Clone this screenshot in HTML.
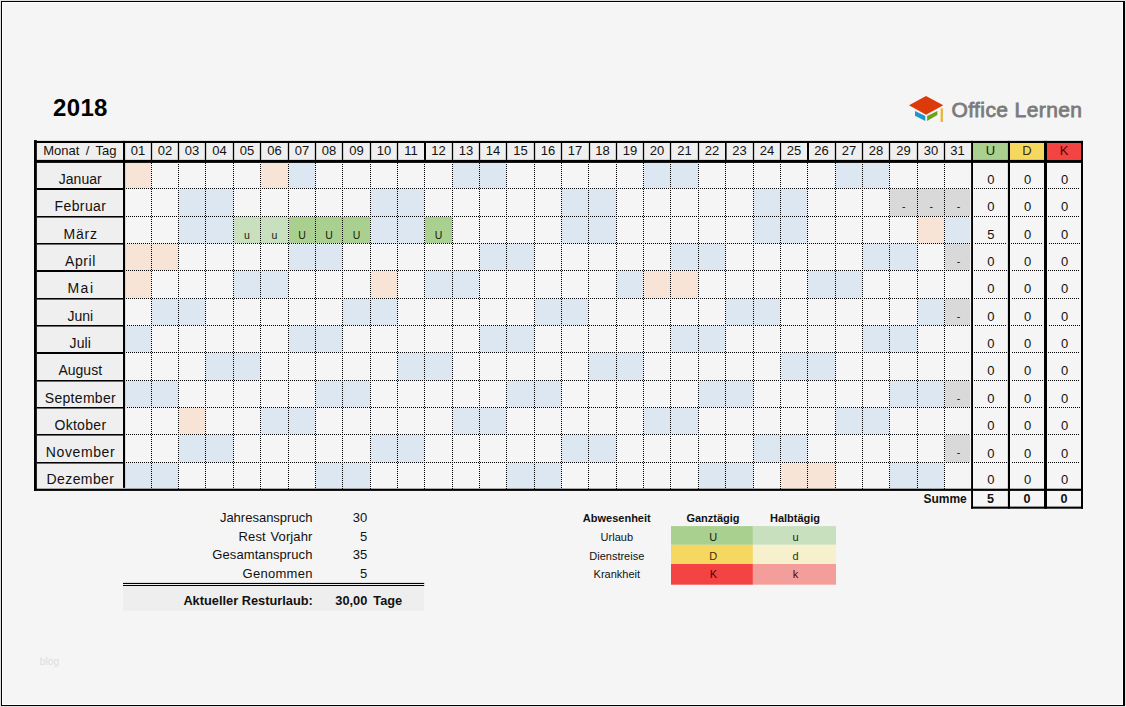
<!DOCTYPE html>
<html lang="de">
<head>
<meta charset="utf-8">
<title>Urlaubsplaner 2018</title>
<style>
html,body{margin:0;padding:0;}
body{width:1126px;height:707px;overflow:hidden;background:#f5f5f5;font-family:"Liberation Sans",sans-serif;}
#page{position:relative;width:1126px;height:707px;overflow:hidden;}
#gfx{position:absolute;left:0;top:0;}
.t{position:absolute;white-space:nowrap;margin:0;padding:0;}
</style>
</head>
<body>
<div id="page">
<svg id="gfx" width="1126" height="707" viewBox="0 0 1126 707">
<rect x="0" y="0" width="1126" height="707" fill="#e0e0e0"/>
<rect x="1" y="1" width="1124" height="705" fill="#000"/>
<rect x="2" y="2" width="1121" height="703" fill="#fff"/>
<rect x="3" y="3" width="1119" height="701" fill="#f5f5f5"/>
<rect x="36.85" y="143" width="934.25" height="16.9" fill="#efefef"/>
<rect x="973" y="143" width="34.9" height="16.9" fill="#a9d08e"/>
<rect x="1010" y="143" width="34" height="16.9" fill="#f6d860"/>
<rect x="1047" y="143" width="34" height="16.9" fill="#f44343"/>
<rect x="36.85" y="162.9" width="86.15" height="325.8" fill="#efefef"/>
<rect x="125.1" y="162.9" width="25.9" height="25.1" fill="#f8e3d7"/>
<rect x="261" y="162.9" width="27" height="25.1" fill="#f8e3d7"/>
<rect x="289" y="162.9" width="26" height="25.1" fill="#dde7f2"/>
<rect x="453" y="162.9" width="27" height="25.1" fill="#dde7f2"/>
<rect x="480" y="162.9" width="26" height="25.1" fill="#dde7f2"/>
<rect x="644" y="162.9" width="27" height="25.1" fill="#dde7f2"/>
<rect x="671" y="162.9" width="27" height="25.1" fill="#dde7f2"/>
<rect x="836" y="162.9" width="27" height="25.1" fill="#dde7f2"/>
<rect x="863" y="162.9" width="26" height="25.1" fill="#dde7f2"/>
<rect x="179" y="189" width="27" height="27" fill="#dde7f2"/>
<rect x="179" y="216" width="26" height="1" fill="#dde7f2"/>
<rect x="206" y="189" width="27" height="27" fill="#dde7f2"/>
<rect x="206" y="216" width="27" height="1" fill="#dde7f2"/>
<rect x="371" y="189" width="27" height="27" fill="#dde7f2"/>
<rect x="371" y="216" width="26" height="1" fill="#dde7f2"/>
<rect x="398" y="189" width="26" height="27" fill="#dde7f2"/>
<rect x="398" y="216" width="26" height="1" fill="#dde7f2"/>
<rect x="562" y="189" width="27" height="27" fill="#dde7f2"/>
<rect x="562" y="216" width="26" height="1" fill="#dde7f2"/>
<rect x="589" y="189" width="27" height="27" fill="#dde7f2"/>
<rect x="589" y="216" width="27" height="1" fill="#dde7f2"/>
<rect x="754" y="189" width="27" height="27" fill="#dde7f2"/>
<rect x="754" y="216" width="26" height="1" fill="#dde7f2"/>
<rect x="781" y="189" width="26" height="27" fill="#dde7f2"/>
<rect x="781" y="216" width="26" height="1" fill="#dde7f2"/>
<rect x="890" y="189" width="28" height="27" fill="#d9d9d9"/>
<rect x="918" y="189" width="27" height="27" fill="#d9d9d9"/>
<rect x="945" y="189" width="25.2" height="27" fill="#d9d9d9"/>
<rect x="179" y="217" width="27" height="26" fill="#dde7f2"/>
<rect x="206" y="217" width="27" height="26" fill="#dde7f2"/>
<rect x="234" y="217" width="27" height="26" fill="#c9e0bf"/>
<rect x="261" y="217" width="27" height="26" fill="#c9e0bf"/>
<rect x="289" y="217" width="27" height="26" fill="#a9d08e"/>
<rect x="316" y="217" width="27" height="26" fill="#a9d08e"/>
<rect x="343" y="217" width="27" height="26" fill="#a9d08e"/>
<rect x="371" y="217" width="27" height="26" fill="#dde7f2"/>
<rect x="398" y="217" width="26" height="26" fill="#dde7f2"/>
<rect x="425" y="217" width="27" height="26" fill="#a9d08e"/>
<rect x="562" y="217" width="27" height="26" fill="#dde7f2"/>
<rect x="589" y="217" width="27" height="26" fill="#dde7f2"/>
<rect x="754" y="217" width="27" height="26" fill="#dde7f2"/>
<rect x="781" y="217" width="26" height="26" fill="#dde7f2"/>
<rect x="918" y="217" width="26" height="26" fill="#f8e3d7"/>
<rect x="945" y="217" width="25.2" height="26" fill="#dde7f2"/>
<rect x="125.1" y="244" width="26.9" height="26" fill="#f8e3d7"/>
<rect x="125.1" y="270" width="25.9" height="1" fill="#f8e3d7"/>
<rect x="152" y="244" width="26" height="26" fill="#f8e3d7"/>
<rect x="289" y="244" width="27" height="26" fill="#dde7f2"/>
<rect x="316" y="244" width="26" height="26" fill="#dde7f2"/>
<rect x="480" y="244" width="27" height="26" fill="#dde7f2"/>
<rect x="507" y="244" width="27" height="26" fill="#dde7f2"/>
<rect x="671" y="244" width="28" height="26" fill="#dde7f2"/>
<rect x="699" y="244" width="26" height="26" fill="#dde7f2"/>
<rect x="863" y="244" width="27" height="26" fill="#dde7f2"/>
<rect x="890" y="244" width="27" height="26" fill="#dde7f2"/>
<rect x="945" y="244" width="25.2" height="26" fill="#d9d9d9"/>
<rect x="125.1" y="271" width="25.9" height="27" fill="#f8e3d7"/>
<rect x="234" y="271" width="27" height="27" fill="#dde7f2"/>
<rect x="261" y="271" width="27" height="27" fill="#dde7f2"/>
<rect x="371" y="271" width="26" height="27" fill="#f8e3d7"/>
<rect x="425" y="271" width="28" height="27" fill="#dde7f2"/>
<rect x="453" y="271" width="26" height="27" fill="#dde7f2"/>
<rect x="617" y="271" width="26" height="27" fill="#dde7f2"/>
<rect x="644" y="271" width="27" height="27" fill="#f8e3d7"/>
<rect x="671" y="271" width="27" height="27" fill="#f8e3d7"/>
<rect x="808" y="271" width="28" height="27" fill="#dde7f2"/>
<rect x="836" y="271" width="26" height="27" fill="#dde7f2"/>
<rect x="152" y="299" width="27" height="26" fill="#dde7f2"/>
<rect x="179" y="299" width="26" height="26" fill="#dde7f2"/>
<rect x="343" y="299" width="28" height="26" fill="#dde7f2"/>
<rect x="371" y="299" width="26" height="26" fill="#dde7f2"/>
<rect x="535" y="299" width="27" height="26" fill="#dde7f2"/>
<rect x="562" y="299" width="26" height="26" fill="#dde7f2"/>
<rect x="726" y="299" width="28" height="26" fill="#dde7f2"/>
<rect x="754" y="299" width="26" height="26" fill="#dde7f2"/>
<rect x="918" y="299" width="26" height="26" fill="#dde7f2"/>
<rect x="945" y="299" width="25.2" height="26" fill="#d9d9d9"/>
<rect x="125.1" y="326" width="25.9" height="26" fill="#dde7f2"/>
<rect x="289" y="326" width="27" height="26" fill="#dde7f2"/>
<rect x="316" y="326" width="26" height="26" fill="#dde7f2"/>
<rect x="480" y="326" width="27" height="26" fill="#dde7f2"/>
<rect x="507" y="326" width="27" height="26" fill="#dde7f2"/>
<rect x="671" y="326" width="28" height="26" fill="#dde7f2"/>
<rect x="699" y="326" width="26" height="26" fill="#dde7f2"/>
<rect x="863" y="326" width="27" height="26" fill="#dde7f2"/>
<rect x="890" y="326" width="27" height="26" fill="#dde7f2"/>
<rect x="206" y="353" width="28" height="27" fill="#dde7f2"/>
<rect x="234" y="353" width="26" height="27" fill="#dde7f2"/>
<rect x="398" y="353" width="27" height="27" fill="#dde7f2"/>
<rect x="425" y="353" width="27" height="27" fill="#dde7f2"/>
<rect x="589" y="353" width="28" height="27" fill="#dde7f2"/>
<rect x="617" y="353" width="26" height="27" fill="#dde7f2"/>
<rect x="781" y="353" width="27" height="27" fill="#dde7f2"/>
<rect x="808" y="353" width="27" height="27" fill="#dde7f2"/>
<rect x="125.1" y="381" width="26.9" height="26" fill="#dde7f2"/>
<rect x="152" y="381" width="26" height="26" fill="#dde7f2"/>
<rect x="316" y="381" width="27" height="26" fill="#dde7f2"/>
<rect x="343" y="381" width="27" height="26" fill="#dde7f2"/>
<rect x="507" y="381" width="28" height="26" fill="#dde7f2"/>
<rect x="535" y="381" width="26" height="26" fill="#dde7f2"/>
<rect x="699" y="381" width="27" height="26" fill="#dde7f2"/>
<rect x="726" y="381" width="27" height="26" fill="#dde7f2"/>
<rect x="890" y="381" width="28" height="26" fill="#dde7f2"/>
<rect x="918" y="381" width="26" height="26" fill="#dde7f2"/>
<rect x="945" y="381" width="25.2" height="26" fill="#d9d9d9"/>
<rect x="179" y="408" width="26" height="26" fill="#f8e3d7"/>
<rect x="261" y="408" width="28" height="26" fill="#dde7f2"/>
<rect x="289" y="408" width="26" height="26" fill="#dde7f2"/>
<rect x="453" y="408" width="27" height="26" fill="#dde7f2"/>
<rect x="480" y="408" width="26" height="26" fill="#dde7f2"/>
<rect x="644" y="408" width="27" height="26" fill="#dde7f2"/>
<rect x="671" y="408" width="27" height="26" fill="#dde7f2"/>
<rect x="836" y="408" width="27" height="26" fill="#dde7f2"/>
<rect x="863" y="408" width="26" height="26" fill="#dde7f2"/>
<rect x="179" y="435" width="27" height="27" fill="#dde7f2"/>
<rect x="206" y="435" width="27" height="27" fill="#dde7f2"/>
<rect x="371" y="435" width="27" height="27" fill="#dde7f2"/>
<rect x="398" y="435" width="26" height="27" fill="#dde7f2"/>
<rect x="562" y="435" width="27" height="27" fill="#dde7f2"/>
<rect x="589" y="435" width="27" height="27" fill="#dde7f2"/>
<rect x="754" y="435" width="27" height="27" fill="#dde7f2"/>
<rect x="781" y="435" width="26" height="27" fill="#dde7f2"/>
<rect x="945" y="435" width="25.2" height="27" fill="#d9d9d9"/>
<rect x="125.1" y="463" width="26.9" height="25.7" fill="#dde7f2"/>
<rect x="152" y="463" width="26" height="25.7" fill="#dde7f2"/>
<rect x="316" y="463" width="27" height="25.7" fill="#dde7f2"/>
<rect x="343" y="463" width="27" height="25.7" fill="#dde7f2"/>
<rect x="507" y="463" width="28" height="25.7" fill="#dde7f2"/>
<rect x="535" y="463" width="26" height="25.7" fill="#dde7f2"/>
<rect x="699" y="463" width="27" height="25.7" fill="#dde7f2"/>
<rect x="726" y="463" width="27" height="25.7" fill="#dde7f2"/>
<rect x="781" y="463" width="27" height="25.7" fill="#f8e3d7"/>
<rect x="808" y="463" width="27" height="25.7" fill="#f8e3d7"/>
<rect x="890" y="463" width="28" height="25.7" fill="#dde7f2"/>
<rect x="918" y="463" width="26" height="25.7" fill="#dde7f2"/>
<path d="M126 188.5H970M974 188.5H1007M1012 188.5H1043M1048 188.5H1080M126 216.5H970M974 216.5H1007M1012 216.5H1043M1048 216.5H1080M127 243.5H970M975 243.5H1007M1011 243.5H1043M1049 243.5H1080M126 270.5H970M974 270.5H1007M1012 270.5H1043M1048 270.5H1080M126 298.5H970M974 298.5H1007M1012 298.5H1043M1048 298.5H1080M127 325.5H970M975 325.5H1007M1011 325.5H1043M1049 325.5H1080M126 352.5H970M974 352.5H1007M1012 352.5H1043M1048 352.5H1080M126 380.5H970M974 380.5H1007M1012 380.5H1043M1048 380.5H1080M127 407.5H970M975 407.5H1007M1011 407.5H1043M1049 407.5H1080M126 434.5H970M974 434.5H1007M1012 434.5H1043M1048 434.5H1080M126 462.5H970M974 462.5H1007M1012 462.5H1043M1048 462.5H1080M151.5 163V489M178.5 164V489M205.5 163V489M233.5 163V489M260.5 164V489M288.5 164V489M315.5 163V489M342.5 164V489M370.5 164V489M397.5 163V489M424.5 164V489M452.5 164V489M479.5 163V489M506.5 164V489M534.5 164V489M561.5 163V489M588.5 164V489M616.5 164V489M643.5 163V489M670.5 164V489M698.5 164V489M725.5 163V489M753.5 163V489M780.5 164V489M807.5 163V489M835.5 163V489M862.5 164V489M889.5 163V489M917.5 163V489M944.5 164V489" stroke="#000" stroke-width="1" stroke-dasharray="1 1" fill="none" shape-rendering="crispEdges"/>
<rect x="150.85" y="143" width="1.3" height="16.9" fill="#000"/>
<rect x="177.85" y="143" width="1.3" height="16.9" fill="#000"/>
<rect x="204.85" y="143" width="1.3" height="16.9" fill="#000"/>
<rect x="232.85" y="143" width="1.3" height="16.9" fill="#000"/>
<rect x="259.85" y="143" width="1.3" height="16.9" fill="#000"/>
<rect x="287.85" y="143" width="1.3" height="16.9" fill="#000"/>
<rect x="314.85" y="143" width="1.3" height="16.9" fill="#000"/>
<rect x="341.85" y="143" width="1.3" height="16.9" fill="#000"/>
<rect x="369.85" y="143" width="1.3" height="16.9" fill="#000"/>
<rect x="396.85" y="143" width="1.3" height="16.9" fill="#000"/>
<rect x="424" y="143" width="2" height="16.9" fill="#000"/>
<rect x="451.85" y="143" width="1.3" height="16.9" fill="#000"/>
<rect x="478.85" y="143" width="1.3" height="16.9" fill="#000"/>
<rect x="505.85" y="143" width="1.3" height="16.9" fill="#000"/>
<rect x="533.85" y="143" width="1.3" height="16.9" fill="#000"/>
<rect x="560.85" y="143" width="1.3" height="16.9" fill="#000"/>
<rect x="588.85" y="143" width="1.3" height="16.9" fill="#000"/>
<rect x="615.85" y="143" width="1.3" height="16.9" fill="#000"/>
<rect x="642.85" y="143" width="1.3" height="16.9" fill="#000"/>
<rect x="669.85" y="143" width="1.3" height="16.9" fill="#000"/>
<rect x="697.85" y="143" width="1.3" height="16.9" fill="#000"/>
<rect x="725" y="143" width="1.6" height="16.9" fill="#000"/>
<rect x="752.85" y="143" width="1.3" height="16.9" fill="#000"/>
<rect x="779.85" y="143" width="1.3" height="16.9" fill="#000"/>
<rect x="807" y="143" width="2" height="16.9" fill="#000"/>
<rect x="834.85" y="143" width="1.3" height="16.9" fill="#000"/>
<rect x="861.85" y="143" width="1.3" height="16.9" fill="#000"/>
<rect x="888.85" y="143" width="1.3" height="16.9" fill="#000"/>
<rect x="916.85" y="143" width="1.3" height="16.9" fill="#000"/>
<rect x="943.85" y="143" width="1.3" height="16.9" fill="#000"/>
<rect x="36.85" y="188" width="86.15" height="2" fill="#000"/>
<rect x="36.85" y="216" width="86.15" height="1.55" fill="#000"/>
<rect x="36.85" y="243" width="86.15" height="1.55" fill="#000"/>
<rect x="36.85" y="270" width="86.15" height="2" fill="#000"/>
<rect x="36.85" y="298" width="86.15" height="1.55" fill="#000"/>
<rect x="36.85" y="325" width="86.15" height="1.55" fill="#000"/>
<rect x="36.85" y="352" width="86.15" height="2" fill="#000"/>
<rect x="36.85" y="380" width="86.15" height="1.55" fill="#000"/>
<rect x="36.85" y="407" width="86.15" height="1.55" fill="#000"/>
<rect x="36.85" y="434" width="86.15" height="1.55" fill="#000"/>
<rect x="36.85" y="462" width="86.15" height="1.55" fill="#000"/>
<rect x="34" y="140.1" width="2.85" height="350.8" fill="#000"/>
<rect x="34" y="140.9" width="1049" height="2.1" fill="#000"/>
<rect x="34" y="159.9" width="1049" height="3" fill="#000"/>
<rect x="34" y="488.7" width="1049" height="2.2" fill="#000"/>
<rect x="123" y="140.9" width="2.1" height="347" fill="#000"/>
<rect x="971.1" y="140.9" width="1.9" height="367.8" fill="#000"/>
<rect x="1007.9" y="140.9" width="2.1" height="367.8" fill="#000"/>
<rect x="1044" y="140.9" width="3" height="367.8" fill="#000"/>
<rect x="1081" y="140.9" width="2" height="367.8" fill="#000"/>
<rect x="971.1" y="506.6" width="111.9" height="2.1" fill="#000"/>
<rect x="671" y="526.1" width="81.9" height="18.7" fill="#a9d08e"/>
<rect x="752.9" y="526.1" width="83.1" height="18.7" fill="#c9e0bf"/>
<rect x="671" y="544.8" width="81.9" height="19.2" fill="#f6d860"/>
<rect x="752.9" y="544.8" width="83.1" height="19.2" fill="#f7f0cc"/>
<rect x="671" y="564" width="81.9" height="20.7" fill="#f44343"/>
<rect x="752.9" y="564" width="83.1" height="20.7" fill="#f49e9b"/>
<rect x="123" y="582.6" width="301.2" height="4.4" fill="#fbfbfb"/>
<rect x="123" y="587" width="301.2" height="23.8" fill="#eeeeee"/>
<rect x="123" y="582.9" width="301.2" height="1.1" fill="#000"/>
<rect x="123" y="584.95" width="301.2" height="1.1" fill="#000"/>
<polygon points="909.0,105.3 926.0,95.9 943.3,105.3 926.0,114.7" fill="#dd3a0a"/>
<polygon points="915.0,110.9 925.3,116.0 925.3,120.9 915.0,115.8" fill="#1e96cc"/>
<polygon points="927.1,116.0 937.4,110.9 937.4,114.9 927.1,120.9" fill="#6ca315"/>
<rect x="940.6" y="108.3" width="2.4" height="13.7" fill="#e9b646"/>
</svg>
<div class="t" style="left:53px;top:96px;width:200px;font-size:24px;line-height:24px;text-align:left;color:#000;font-weight:bold;letter-spacing:0.35px;">2018</div>
<div class="t" style="left:951.5px;top:99px;width:200px;font-size:21px;line-height:21px;text-align:left;color:#7b7b7b;-webkit-text-stroke:0.8px #7b7b7b;letter-spacing:0.4px;">Office Lernen</div>
<div class="t" style="left:-20.08px;top:144px;width:200px;font-size:13px;line-height:13px;text-align:center;color:#111;word-spacing:2.8px;">Monat / Tag</div>
<div class="t" style="left:38.05px;top:144px;width:200px;font-size:13px;line-height:13px;text-align:center;color:#111;">01</div>
<div class="t" style="left:65px;top:144px;width:200px;font-size:13px;line-height:13px;text-align:center;color:#111;">02</div>
<div class="t" style="left:92px;top:144px;width:200px;font-size:13px;line-height:13px;text-align:center;color:#111;">03</div>
<div class="t" style="left:119.5px;top:144px;width:200px;font-size:13px;line-height:13px;text-align:center;color:#111;">04</div>
<div class="t" style="left:147px;top:144px;width:200px;font-size:13px;line-height:13px;text-align:center;color:#111;">05</div>
<div class="t" style="left:174.5px;top:144px;width:200px;font-size:13px;line-height:13px;text-align:center;color:#111;">06</div>
<div class="t" style="left:202px;top:144px;width:200px;font-size:13px;line-height:13px;text-align:center;color:#111;">07</div>
<div class="t" style="left:229px;top:144px;width:200px;font-size:13px;line-height:13px;text-align:center;color:#111;">08</div>
<div class="t" style="left:256.5px;top:144px;width:200px;font-size:13px;line-height:13px;text-align:center;color:#111;">09</div>
<div class="t" style="left:284px;top:144px;width:200px;font-size:13px;line-height:13px;text-align:center;color:#111;">10</div>
<div class="t" style="left:311px;top:144px;width:200px;font-size:13px;line-height:13px;text-align:center;color:#111;">11</div>
<div class="t" style="left:338.5px;top:144px;width:200px;font-size:13px;line-height:13px;text-align:center;color:#111;">12</div>
<div class="t" style="left:366px;top:144px;width:200px;font-size:13px;line-height:13px;text-align:center;color:#111;">13</div>
<div class="t" style="left:393px;top:144px;width:200px;font-size:13px;line-height:13px;text-align:center;color:#111;">14</div>
<div class="t" style="left:420.5px;top:144px;width:200px;font-size:13px;line-height:13px;text-align:center;color:#111;">15</div>
<div class="t" style="left:448px;top:144px;width:200px;font-size:13px;line-height:13px;text-align:center;color:#111;">16</div>
<div class="t" style="left:475px;top:144px;width:200px;font-size:13px;line-height:13px;text-align:center;color:#111;">17</div>
<div class="t" style="left:502.5px;top:144px;width:200px;font-size:13px;line-height:13px;text-align:center;color:#111;">18</div>
<div class="t" style="left:530px;top:144px;width:200px;font-size:13px;line-height:13px;text-align:center;color:#111;">19</div>
<div class="t" style="left:557px;top:144px;width:200px;font-size:13px;line-height:13px;text-align:center;color:#111;">20</div>
<div class="t" style="left:584.5px;top:144px;width:200px;font-size:13px;line-height:13px;text-align:center;color:#111;">21</div>
<div class="t" style="left:612px;top:144px;width:200px;font-size:13px;line-height:13px;text-align:center;color:#111;">22</div>
<div class="t" style="left:639.5px;top:144px;width:200px;font-size:13px;line-height:13px;text-align:center;color:#111;">23</div>
<div class="t" style="left:667px;top:144px;width:200px;font-size:13px;line-height:13px;text-align:center;color:#111;">24</div>
<div class="t" style="left:694px;top:144px;width:200px;font-size:13px;line-height:13px;text-align:center;color:#111;">25</div>
<div class="t" style="left:721.5px;top:144px;width:200px;font-size:13px;line-height:13px;text-align:center;color:#111;">26</div>
<div class="t" style="left:749px;top:144px;width:200px;font-size:13px;line-height:13px;text-align:center;color:#111;">27</div>
<div class="t" style="left:776px;top:144px;width:200px;font-size:13px;line-height:13px;text-align:center;color:#111;">28</div>
<div class="t" style="left:803.5px;top:144px;width:200px;font-size:13px;line-height:13px;text-align:center;color:#111;">29</div>
<div class="t" style="left:831px;top:144px;width:200px;font-size:13px;line-height:13px;text-align:center;color:#111;">30</div>
<div class="t" style="left:857.6px;top:144px;width:200px;font-size:13px;line-height:13px;text-align:center;color:#111;">31</div>
<div class="t" style="left:890.45px;top:144px;width:200px;font-size:13px;line-height:13px;text-align:center;color:#15210b;">U</div>
<div class="t" style="left:927px;top:144px;width:200px;font-size:13px;line-height:13px;text-align:center;color:#3a2c00;">D</div>
<div class="t" style="left:964px;top:144px;width:200px;font-size:13px;line-height:13px;text-align:center;color:#4a0505;">K</div>
<div class="t" style="left:-19.78px;top:172px;width:200px;font-size:14px;line-height:14px;text-align:center;color:#111;">Januar</div>
<div class="t" style="left:890.95px;top:173px;width:200px;font-size:13px;line-height:13px;text-align:center;color:#111;">0</div>
<div class="t" style="left:927.5px;top:173px;width:200px;font-size:13px;line-height:13px;text-align:center;color:#111;">0</div>
<div class="t" style="left:964.5px;top:173px;width:200px;font-size:13px;line-height:13px;text-align:center;color:#111;">0</div>
<div class="t" style="left:-19.58px;top:199px;width:200px;font-size:14px;line-height:14px;text-align:center;color:#111;letter-spacing:0.4px;">Februar</div>
<div class="t" style="left:890.95px;top:200px;width:200px;font-size:13px;line-height:13px;text-align:center;color:#111;">0</div>
<div class="t" style="left:927.5px;top:200px;width:200px;font-size:13px;line-height:13px;text-align:center;color:#111;">0</div>
<div class="t" style="left:964.5px;top:200px;width:200px;font-size:13px;line-height:13px;text-align:center;color:#111;">0</div>
<div class="t" style="left:803.8px;top:201px;width:200px;font-size:10.5px;line-height:10.5px;text-align:center;color:#111;">-</div>
<div class="t" style="left:831.3px;top:201px;width:200px;font-size:10.5px;line-height:10.5px;text-align:center;color:#111;">-</div>
<div class="t" style="left:858.6px;top:201px;width:200px;font-size:10.5px;line-height:10.5px;text-align:center;color:#111;">-</div>
<div class="t" style="left:-19.38px;top:227px;width:200px;font-size:14px;line-height:14px;text-align:center;color:#111;letter-spacing:0.8px;">März</div>
<div class="t" style="left:890.95px;top:228px;width:200px;font-size:13px;line-height:13px;text-align:center;color:#111;">5</div>
<div class="t" style="left:927.5px;top:228px;width:200px;font-size:13px;line-height:13px;text-align:center;color:#111;">0</div>
<div class="t" style="left:964.5px;top:228px;width:200px;font-size:13px;line-height:13px;text-align:center;color:#111;">0</div>
<div class="t" style="left:147px;top:230px;width:200px;font-size:10.5px;line-height:10.5px;text-align:center;color:#15210b;">u</div>
<div class="t" style="left:174.5px;top:230px;width:200px;font-size:10.5px;line-height:10.5px;text-align:center;color:#15210b;">u</div>
<div class="t" style="left:202px;top:230px;width:200px;font-size:10.5px;line-height:10.5px;text-align:center;color:#15210b;">U</div>
<div class="t" style="left:229px;top:230px;width:200px;font-size:10.5px;line-height:10.5px;text-align:center;color:#15210b;">U</div>
<div class="t" style="left:256.5px;top:230px;width:200px;font-size:10.5px;line-height:10.5px;text-align:center;color:#15210b;">U</div>
<div class="t" style="left:338.5px;top:230px;width:200px;font-size:10.5px;line-height:10.5px;text-align:center;color:#15210b;">U</div>
<div class="t" style="left:-19.5px;top:254px;width:200px;font-size:14px;line-height:14px;text-align:center;color:#111;letter-spacing:0.55px;">April</div>
<div class="t" style="left:890.95px;top:255px;width:200px;font-size:13px;line-height:13px;text-align:center;color:#111;">0</div>
<div class="t" style="left:927.5px;top:255px;width:200px;font-size:13px;line-height:13px;text-align:center;color:#111;">0</div>
<div class="t" style="left:964.5px;top:255px;width:200px;font-size:13px;line-height:13px;text-align:center;color:#111;">0</div>
<div class="t" style="left:858.6px;top:256px;width:200px;font-size:10.5px;line-height:10.5px;text-align:center;color:#111;">-</div>
<div class="t" style="left:-19.03px;top:281px;width:200px;font-size:14px;line-height:14px;text-align:center;color:#111;letter-spacing:1.5px;">Mai</div>
<div class="t" style="left:890.95px;top:282px;width:200px;font-size:13px;line-height:13px;text-align:center;color:#111;">0</div>
<div class="t" style="left:927.5px;top:282px;width:200px;font-size:13px;line-height:13px;text-align:center;color:#111;">0</div>
<div class="t" style="left:964.5px;top:282px;width:200px;font-size:13px;line-height:13px;text-align:center;color:#111;">0</div>
<div class="t" style="left:-19.78px;top:309px;width:200px;font-size:14px;line-height:14px;text-align:center;color:#111;">Juni</div>
<div class="t" style="left:890.95px;top:310px;width:200px;font-size:13px;line-height:13px;text-align:center;color:#111;">0</div>
<div class="t" style="left:927.5px;top:310px;width:200px;font-size:13px;line-height:13px;text-align:center;color:#111;">0</div>
<div class="t" style="left:964.5px;top:310px;width:200px;font-size:13px;line-height:13px;text-align:center;color:#111;">0</div>
<div class="t" style="left:858.6px;top:311px;width:200px;font-size:10.5px;line-height:10.5px;text-align:center;color:#111;">-</div>
<div class="t" style="left:-19.73px;top:336px;width:200px;font-size:14px;line-height:14px;text-align:center;color:#111;letter-spacing:0.1px;">Juli</div>
<div class="t" style="left:890.95px;top:337px;width:200px;font-size:13px;line-height:13px;text-align:center;color:#111;">0</div>
<div class="t" style="left:927.5px;top:337px;width:200px;font-size:13px;line-height:13px;text-align:center;color:#111;">0</div>
<div class="t" style="left:964.5px;top:337px;width:200px;font-size:13px;line-height:13px;text-align:center;color:#111;">0</div>
<div class="t" style="left:-19.78px;top:363px;width:200px;font-size:14px;line-height:14px;text-align:center;color:#111;">August</div>
<div class="t" style="left:890.95px;top:364px;width:200px;font-size:13px;line-height:13px;text-align:center;color:#111;">0</div>
<div class="t" style="left:927.5px;top:364px;width:200px;font-size:13px;line-height:13px;text-align:center;color:#111;">0</div>
<div class="t" style="left:964.5px;top:364px;width:200px;font-size:13px;line-height:13px;text-align:center;color:#111;">0</div>
<div class="t" style="left:-19.62px;top:391px;width:200px;font-size:14px;line-height:14px;text-align:center;color:#111;letter-spacing:0.3px;">September</div>
<div class="t" style="left:890.95px;top:392px;width:200px;font-size:13px;line-height:13px;text-align:center;color:#111;">0</div>
<div class="t" style="left:927.5px;top:392px;width:200px;font-size:13px;line-height:13px;text-align:center;color:#111;">0</div>
<div class="t" style="left:964.5px;top:392px;width:200px;font-size:13px;line-height:13px;text-align:center;color:#111;">0</div>
<div class="t" style="left:858.6px;top:393px;width:200px;font-size:10.5px;line-height:10.5px;text-align:center;color:#111;">-</div>
<div class="t" style="left:-19.62px;top:418px;width:200px;font-size:14px;line-height:14px;text-align:center;color:#111;letter-spacing:0.3px;">Oktober</div>
<div class="t" style="left:890.95px;top:419px;width:200px;font-size:13px;line-height:13px;text-align:center;color:#111;">0</div>
<div class="t" style="left:927.5px;top:419px;width:200px;font-size:13px;line-height:13px;text-align:center;color:#111;">0</div>
<div class="t" style="left:964.5px;top:419px;width:200px;font-size:13px;line-height:13px;text-align:center;color:#111;">0</div>
<div class="t" style="left:-19.48px;top:445px;width:200px;font-size:14px;line-height:14px;text-align:center;color:#111;letter-spacing:0.6px;">November</div>
<div class="t" style="left:890.95px;top:447px;width:200px;font-size:13px;line-height:13px;text-align:center;color:#111;">0</div>
<div class="t" style="left:927.5px;top:447px;width:200px;font-size:13px;line-height:13px;text-align:center;color:#111;">0</div>
<div class="t" style="left:964.5px;top:447px;width:200px;font-size:13px;line-height:13px;text-align:center;color:#111;">0</div>
<div class="t" style="left:858.6px;top:447px;width:200px;font-size:10.5px;line-height:10.5px;text-align:center;color:#111;">-</div>
<div class="t" style="left:-19.58px;top:472px;width:200px;font-size:14px;line-height:14px;text-align:center;color:#111;letter-spacing:0.4px;">Dezember</div>
<div class="t" style="left:890.95px;top:473px;width:200px;font-size:13px;line-height:13px;text-align:center;color:#111;">0</div>
<div class="t" style="left:927.5px;top:473px;width:200px;font-size:13px;line-height:13px;text-align:center;color:#111;">0</div>
<div class="t" style="left:964.5px;top:473px;width:200px;font-size:13px;line-height:13px;text-align:center;color:#111;">0</div>
<div class="t" style="left:766.8px;top:493px;width:200px;font-size:12px;line-height:12px;text-align:right;color:#111;font-weight:bold;">Summe</div>
<div class="t" style="left:890.45px;top:493px;width:200px;font-size:12.6px;line-height:12.6px;text-align:center;color:#111;font-weight:bold;">5</div>
<div class="t" style="left:927px;top:493px;width:200px;font-size:12.6px;line-height:12.6px;text-align:center;color:#111;font-weight:bold;">0</div>
<div class="t" style="left:964px;top:493px;width:200px;font-size:12.6px;line-height:12.6px;text-align:center;color:#111;font-weight:bold;">0</div>
<div class="t" style="left:112.4px;top:511px;width:200px;font-size:13px;line-height:13px;text-align:right;color:#111;">Jahresanspruch</div>
<div class="t" style="left:167.3px;top:511px;width:200px;font-size:13px;line-height:13px;text-align:right;color:#111;">30</div>
<div class="t" style="left:112.52px;top:530px;width:200px;font-size:13px;line-height:13px;text-align:right;color:#111;letter-spacing:0.12px;word-spacing:1px;">Rest Vorjahr</div>
<div class="t" style="left:167.3px;top:530px;width:200px;font-size:13px;line-height:13px;text-align:right;color:#111;">5</div>
<div class="t" style="left:112.48px;top:548px;width:200px;font-size:13px;line-height:13px;text-align:right;color:#111;letter-spacing:0.08px;">Gesamtanspruch</div>
<div class="t" style="left:167.3px;top:548px;width:200px;font-size:13px;line-height:13px;text-align:right;color:#111;">35</div>
<div class="t" style="left:112.68px;top:567px;width:200px;font-size:13px;line-height:13px;text-align:right;color:#111;letter-spacing:0.28px;">Genommen</div>
<div class="t" style="left:167.3px;top:567px;width:200px;font-size:13px;line-height:13px;text-align:right;color:#111;">5</div>
<div class="t" style="left:112.8px;top:595px;width:200px;font-size:12.8px;line-height:12.8px;text-align:right;color:#111;font-weight:bold;">Aktueller Resturlaub:</div>
<div class="t" style="left:167.3px;top:595px;width:200px;font-size:12.8px;line-height:12.8px;text-align:right;color:#111;font-weight:bold;">30,00</div>
<div class="t" style="left:373.3px;top:595px;width:200px;font-size:12.8px;line-height:12.8px;text-align:left;color:#111;font-weight:bold;">Tage</div>
<div class="t" style="left:516.8px;top:513px;width:200px;font-size:11px;line-height:11px;text-align:center;color:#111;font-weight:bold;">Abwesenheit</div>
<div class="t" style="left:613px;top:513px;width:200px;font-size:11px;line-height:11px;text-align:center;color:#111;font-weight:bold;">Ganztägig</div>
<div class="t" style="left:695px;top:513px;width:200px;font-size:11px;line-height:11px;text-align:center;color:#111;font-weight:bold;">Halbtägig</div>
<div class="t" style="left:516.8px;top:532px;width:200px;font-size:11px;line-height:11px;text-align:center;color:#111;">Urlaub</div>
<div class="t" style="left:613.35px;top:532px;width:200px;font-size:11px;line-height:11px;text-align:center;color:#15210b;">U</div>
<div class="t" style="left:695.45px;top:532px;width:200px;font-size:11px;line-height:11px;text-align:center;color:#15210b;">u</div>
<div class="t" style="left:516.8px;top:551px;width:200px;font-size:11px;line-height:11px;text-align:center;color:#111;">Dienstreise</div>
<div class="t" style="left:613.35px;top:551px;width:200px;font-size:11px;line-height:11px;text-align:center;color:#3a2c00;">D</div>
<div class="t" style="left:695.45px;top:551px;width:200px;font-size:11px;line-height:11px;text-align:center;color:#3a2c00;">d</div>
<div class="t" style="left:516.8px;top:569px;width:200px;font-size:11px;line-height:11px;text-align:center;color:#111;">Krankheit</div>
<div class="t" style="left:613.35px;top:569px;width:200px;font-size:11px;line-height:11px;text-align:center;color:#4a0505;">K</div>
<div class="t" style="left:695.45px;top:569px;width:200px;font-size:11px;line-height:11px;text-align:center;color:#4a0505;">k</div>
<div class="t" style="left:39.7px;top:657px;width:200px;font-size:10.3px;line-height:10.3px;text-align:left;color:#dddddd;">blog</div>
</div>
</body>
</html>
